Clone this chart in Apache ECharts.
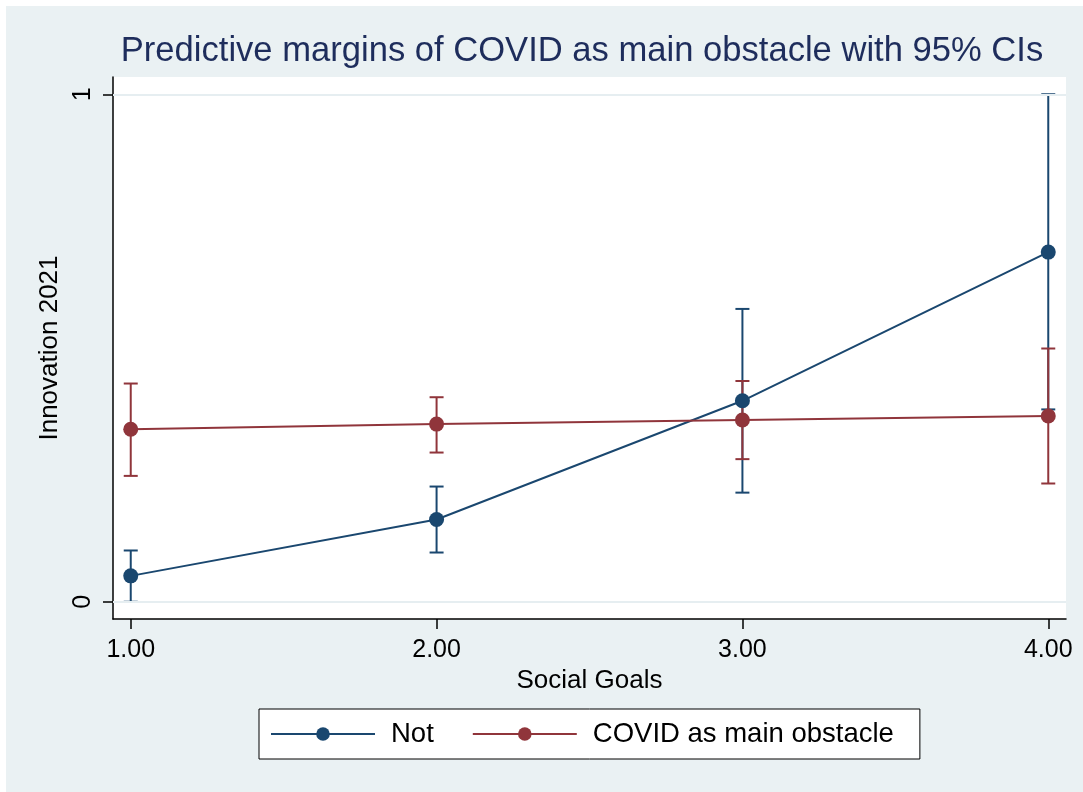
<!DOCTYPE html>
<html>
<head>
<meta charset="utf-8">
<script src="https://cdn.jsdelivr.net/npm/echarts@6/dist/echarts.min.js"></script>
<style>
  html, body { margin: 0; padding: 0; background: #ffffff; }
  #chart { position: absolute; left: 6px; top: 6px; width: 1077px; height: 786px; background: #eaf1f3; }
</style>
</head>
<body>
<div id="chart"></div>
<script>
// Social Goals levels (x positions)
const goals = [1, 2, 3, 4];
const xTickValues = [1, 2, 3, 4];
const yTickValues = [0, 1];

// Predictive margins and 95% CI bounds: "Not"
const notMargin = [0.051, 0.162, 0.396, 0.689];
const notLower  = [0.000, 0.097, 0.215, 0.379];
const notUpper  = [0.101, 0.227, 0.577, 1.000];

// Predictive margins and 95% CI bounds: "COVID as main obstacle"
const covidMargin = [0.340, 0.350, 0.358, 0.366];
const covidLower  = [0.248, 0.294, 0.281, 0.233];
const covidUpper  = [0.430, 0.403, 0.435, 0.499];

const BLUE = '#1a476f';
const RED = '#90353b';
const FONT = 'Liberation Sans, Arial, Helvetica, sans-serif';

function pairs(xs, ys) { return xs.map((x, i) => [x, ys[i]]); }
function ciRows(xs, lo, hi) { return xs.map((x, i) => [x, lo[i], hi[i]]); }

function ciRenderer(color) {
  return function (params, api) {
    const x = api.value(0);
    const top = api.coord([x, api.value(2)]);
    const bot = api.coord([x, api.value(1)]);
    const half = 7;
    const style = { stroke: color, lineWidth: 2, fill: null };
    return {
      type: 'group',
      children: [
        { type: 'line', shape: { x1: top[0], y1: top[1], x2: bot[0], y2: bot[1] }, style: style },
        { type: 'line', shape: { x1: top[0] - half, y1: top[1], x2: top[0] + half, y2: top[1] }, style: style },
        { type: 'line', shape: { x1: bot[0] - half, y1: bot[1], x2: bot[0] + half, y2: bot[1] }, style: style }
      ]
    };
  };
}

const chart = echarts.init(document.getElementById('chart'), null, { renderer: 'canvas' });

chart.setOption({
  animation: false,
  backgroundColor: '#eaf1f3',
  textStyle: { fontFamily: FONT },
  graphic: [{
    type: 'text',
    x: 576,
    y: 45,
    style: {
      text: 'Predictive margins of COVID as main obstacle with 95% CIs',
      fill: '#1e2d5c',
      fontSize: 34.6,
      fontFamily: FONT,
      align: 'center',
      verticalAlign: 'middle'
    }
  }],
  grid: {
    left: 107, right: 17, top: 71, bottom: 173,
    show: true, backgroundColor: '#ffffff', borderWidth: 0
  },
  legend: {
    left: 253,
    top: 703,
    orient: 'horizontal',
    data: ['Not', 'COVID as main obstacle'],
    itemWidth: 104,
    itemHeight: 17,
    itemGap: 38,
    padding: [11, 26, 11, 11],
    backgroundColor: '#ffffff',
    borderColor: '#000000',
    borderWidth: 1,
    borderRadius: 0,
    textStyle: { fontSize: 27.5, color: '#000000', fontFamily: FONT, padding: [0, 0, 0, 11] }
  },
  xAxis: {
    type: 'value',
    min: 0.942,
    max: 4.058,
    name: 'Social Goals',
    nameLocation: 'middle',
    nameGap: 46,
    nameTextStyle: { fontSize: 26, color: '#000000', fontFamily: FONT },
    axisLine: { show: true, onZero: false, lineStyle: { color: '#000000', width: 1.5 } },
    axisTick: { show: true, inside: false, length: 10, customValues: xTickValues, lineStyle: { color: '#000000', width: 1.5 } },
    axisLabel: {
      customValues: xTickValues,
      formatter: v => v.toFixed(2),
      fontSize: 25, color: '#000000', margin: 19, fontFamily: FONT
    },
    splitLine: { show: false }
  },
  yAxis: {
    type: 'value',
    min: -0.034,
    max: 1.034,
    name: 'Innovation 2021',
    nameLocation: 'middle',
    nameRotate: 90,
    nameGap: 49,
    nameTextStyle: { fontSize: 26, color: '#000000', fontFamily: FONT },
    axisLine: { show: true, onZero: false, lineStyle: { color: '#000000', width: 1.5 } },
    axisTick: { show: true, inside: false, length: 10, customValues: yTickValues, lineStyle: { color: '#000000', width: 1.5 } },
    axisLabel: {
      customValues: yTickValues,
      rotate: 90,
      fontSize: 25, color: '#000000', margin: 17, fontFamily: FONT
    },
    splitLine: { show: false }
  },
  series: [
    {
      // horizontal reference lines at the labelled y values
      type: 'line',
      data: [],
      z: 1,
      silent: true,
      markLine: {
        silent: true,
        symbol: 'none',
        label: { show: false },
        lineStyle: { color: '#e6eef1', width: 2, type: 'solid' },
        data: yTickValues.map(v => ({ yAxis: v }))
      }
    },
    {
      type: 'custom',
      z: 2,
      renderItem: ciRenderer(BLUE),
      encode: { x: 0, y: [1, 2] },
      data: ciRows(goals, notLower, notUpper)
    },
    {
      type: 'custom',
      z: 2,
      renderItem: ciRenderer(RED),
      encode: { x: 0, y: [1, 2] },
      data: ciRows(goals, covidLower, covidUpper)
    },
    {
      name: 'Not',
      type: 'line',
      z: 3,
      data: pairs(goals, notMargin),
      symbol: 'circle',
      symbolSize: 15,
      itemStyle: { color: BLUE },
      lineStyle: { color: BLUE, width: 2 }
    },
    {
      name: 'COVID as main obstacle',
      type: 'line',
      z: 3,
      data: pairs(goals, covidMargin),
      symbol: 'circle',
      symbolSize: 15,
      itemStyle: { color: RED },
      lineStyle: { color: RED, width: 2 }
    }
  ]
});
</script>
</body>
</html>
